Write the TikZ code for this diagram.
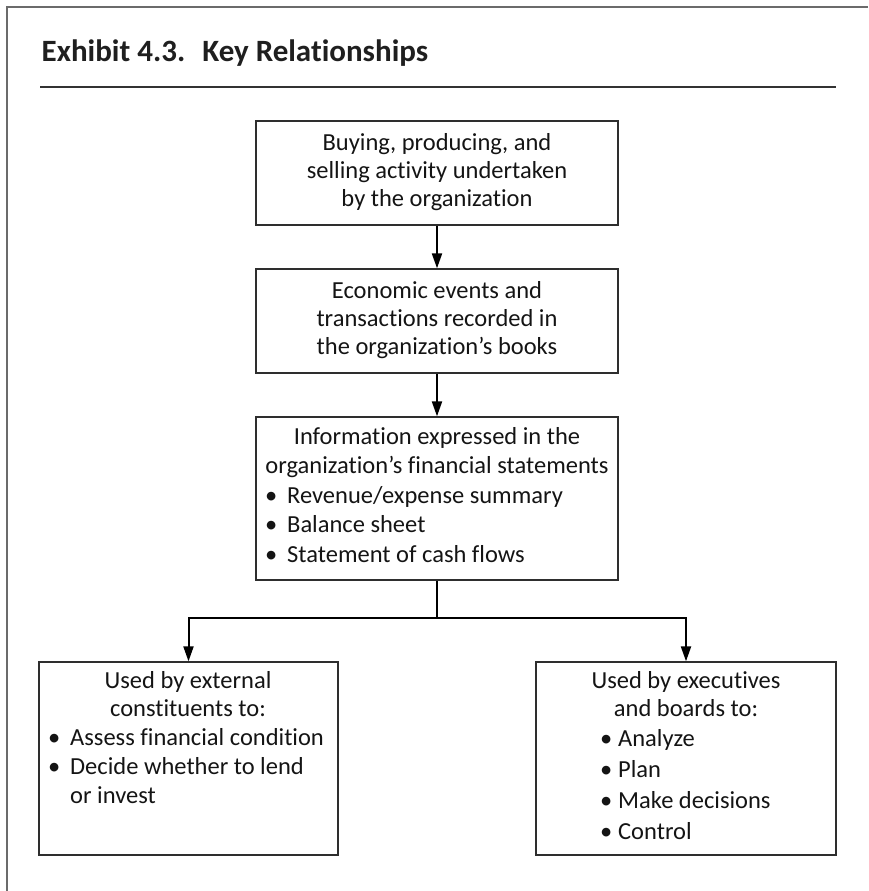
\documentclass[tikz,border=0pt]{standalone}
\usepackage{fontspec}
\setmainfont{Carlito}[Ligatures={NoCommon}]
\usetikzlibrary{arrows.meta}

\newcommand\bodysize{\fontsize{24.5}{28}\selectfont}
\newcommand\headsize{\fontsize{31}{36}\selectfont\bfseries}
% bullet set in a box of fixed width, so the item text starts at a known indent
\newcommand\blt[1]{\makebox[#1][l]{•}}

\begin{document}
\begin{tikzpicture}[x=1pt,y=-1pt,
  edge/.style={draw=black!58, line width=2.2pt},
  stepbox/.style={draw=black!82, line width=1.3pt, inner sep=0pt, rectangle},
  flow/.style={draw=black, line width=2pt, -{Triangle[length=15pt,width=10pt]}},
  flowline/.style={draw=black, line width=2pt},
  cline/.style={anchor=base, inner sep=0pt, font=\bodysize, text=black!92},
  lline/.style={anchor=base west, inner sep=0pt, font=\bodysize, text=black!92}]

\useasboundingbox (0,0) rectangle (868,891);

% page frame (top and left edges) and heading rule
\coordinate (frameR) at (868,7);
\coordinate (frameC) at (7,7);
\coordinate (frameB) at (7,891);
\draw[edge] (frameR) -- (frameC) -- (frameB);

\node[anchor=base west, inner sep=0pt, font=\headsize, text=black!88] (title)
  at (41.5,62) {Exhibit 4.3.\hspace{17pt}Key Relationships};
\coordinate (ruleL) at (40,87);
\coordinate (ruleR) at (836,87);
\draw[draw=black!80, line width=1.4pt] (ruleL) -- (ruleR);

% boxes
\node[stepbox, minimum width=362pt, minimum height=104pt] (b1) at (437,173) {};
\node[stepbox, minimum width=362pt, minimum height=104pt] (b2) at (437,321) {};
\node[stepbox, minimum width=362pt, minimum height=163pt] (b3) at (437,498.5) {};
\node[stepbox, minimum width=299pt, minimum height=193pt] (lb) at (188.5,758.5) {};
\node[stepbox, minimum width=300pt, minimum height=193pt] (rb) at (686,758.5) {};

% box texts
\node[cline] (b1a) at (437,150) {Buying, producing, and};
\node[cline] (b1b) at (437,178) {selling activity undertaken};
\node[cline] (b1c) at (437,206) {by the organization};

\node[cline] (b2a) at (437,298) {Economic events and};
\node[cline] (b2b) at (437,326) {transactions recorded in};
\node[cline] (b2c) at (437,354) {the organization’s books};

\node[cline] (b3a) at (437,444) {Information expressed in the};
\node[cline] (b3b) at (437,473.5) {organization’s financial statements};
\node[lline] (b3c) at (265,503) {\blt{22pt}Revenue/expense summary};
\node[lline] (b3d) at (265,532.5) {\blt{22pt}Balance sheet};
\node[lline] (b3e) at (265,562) {\blt{22pt}Statement of cash flows};

\node[cline] (lba) at (188,688) {Used by external};
\node[cline] (lbb) at (188,716) {constituents to:};
\node[lline] (lbc) at (48,745) {\blt{22pt}Assess financial condition};
\node[lline] (lbd) at (48,774) {\blt{22pt}Decide whether to lend};
\node[lline] (lbe) at (70,803) {or invest};

\node[cline] (rba) at (686,688) {Used by executives};
\node[cline] (rbb) at (686,716) {and boards to:};
\node[lline] (rbc) at (600,746) {\blt{18pt}Analyze};
\node[lline] (rbd) at (600,777) {\blt{18pt}Plan};
\node[lline] (rbe) at (600,808) {\blt{18pt}Make decisions};
\node[lline] (rbf) at (600,839) {\blt{18pt}Control};

% connectors
\draw[flow] (b1.south) -- (b2.north);
\draw[flow] (b2.south) -- (b3.north);
\coordinate (fork) at (437,618);
\draw[flowline] (b3.south) -- (fork);
\draw[flow] (fork) -| (lb.north);
\draw[flow] (fork) -| (rb.north);
\end{tikzpicture}
\end{document}
